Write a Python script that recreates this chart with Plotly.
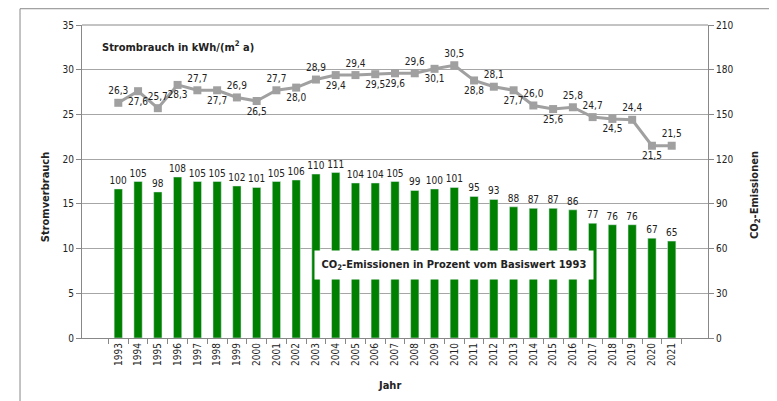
import plotly.graph_objects as go

years = [str(y) for y in range(1993, 2022)]
strom = [26.3, 27.6, 25.7, 28.3, 27.7, 27.7, 26.9, 26.5, 27.7, 28.0, 28.9, 29.4, 29.4, 29.5, 29.6,
         29.6, 30.1, 30.5, 28.8, 28.1, 27.7, 26.0, 25.6, 25.8, 24.7, 24.5, 24.4, 21.5, 21.5]
co2 = [100, 105, 98, 108, 105, 105, 102, 101, 105, 106, 110, 111, 104, 104, 105,
       99, 100, 101, 95, 93, 88, 87, 87, 86, 77, 76, 76, 67, 65]
label_pos = ["top", "bottom", "top", "bottom", "top", "bottom", "top", "bottom", "top", "bottom",
             "top", "bottom", "top", "bottom", "bottom", "top", "bottom", "top", "bottom", "top",
             "bottom", "top", "bottom", "top", "top", "bottom", "top", "bottom", "top"]

FONT = "DejaVu Sans Condensed, Liberation Sans, sans-serif"
GRID = "#a6a6a6"

fig = go.Figure()

fig.add_trace(go.Bar(
    x=years, y=co2, yaxis="y2", marker_color="#008000", width=0.42,
    text=[str(v) for v in co2], textposition="outside", cliponaxis=False,
    constraintext="none",
    textfont=dict(size=10, color="#222"), showlegend=False,
))

fig.add_trace(go.Scatter(
    x=years, y=strom, mode="lines+markers+text",
    line=dict(color="#a0a0a0", width=3),
    marker=dict(symbol="square", size=8, color="#a0a0a0"),
    text=[f"{v:.1f}".replace(".", ",") for v in strom],
    textposition=[p + " center" for p in label_pos],
    textfont=dict(size=10, color="#222"), cliponaxis=False, showlegend=False,
))

# page body has an 8px margin, so the figure is a bit smaller than the window
fig.update_layout(
    width=769, height=393,
    margin=dict(l=74, r=69, t=17, b=63),
    paper_bgcolor="white", plot_bgcolor="white",
    font=dict(family=FONT, size=10, color="#222"),
    bargap=0.5,
    xaxis=dict(
        type="category", tickangle=-90, ticks="outside", ticklen=5, tickcolor="#888",
        tickson="boundaries", showline=True, linecolor="#888", showgrid=False,
        tickfont=dict(size=10),
    ),
    yaxis=dict(
        range=[0, 35], dtick=5, showgrid=True, gridcolor=GRID, gridwidth=1,
        showline=True, linecolor="#888", ticks="outside", ticklen=5, tickcolor="#888",
        mirror=False, zeroline=False, tickfont=dict(size=10),
    ),
    yaxis2=dict(
        range=[0, 210], dtick=30, overlaying="y", side="right", showgrid=False,
        showline=True, linecolor="#888", ticks="outside", ticklen=5, tickcolor="#888",
        zeroline=False, tickfont=dict(size=10),
    ),
    shapes=[
        # outer frame
        dict(type="rect", xref="paper", yref="paper", x0=-0.099, x1=1.099, y0=-0.35, y1=1.052,
             line=dict(color="#888", width=1), fillcolor="rgba(0,0,0,0)", layer="below"),
        # top border of plot area
        dict(type="line", xref="paper", yref="paper", x0=0, x1=1, y0=1, y1=1,
             line=dict(color="#888", width=1)),
    ],
    annotations=[
        dict(text="<b>Strombrauch in kWh/(m<sup>2</sup> a)</b>", xref="paper", yref="paper",
             x=0.029, y=0.93, xanchor="left", yanchor="middle", showarrow=False,
             font=dict(size=11)),
        dict(text="<b>CO<sub>2</sub>-Emissionen in Prozent vom Basiswert 1993</b>",
             xref="paper", yref="paper", x=0.594, y=0.233, xanchor="center", yanchor="middle",
             showarrow=False, bgcolor="white", width=276, height=26, font=dict(size=11)),
        dict(text="<b>Stromverbrauch</b>", xref="paper", yref="paper", x=-0.059, y=0.45,
             xanchor="center", yanchor="middle", textangle=-90, showarrow=False,
             font=dict(size=11)),
        dict(text="<b>CO<sub>2</sub>-Emissionen</b>", xref="paper", yref="paper", x=1.075, y=0.457,
             xanchor="center", yanchor="middle", textangle=-90, showarrow=False,
             font=dict(size=11)),
        dict(text="<b>Jahr</b>", xref="paper", yref="paper", x=0.492, y=-0.153,
             xanchor="center", yanchor="middle", showarrow=False, font=dict(size=11)),
    ],
)

fig.write_html("out.html")
